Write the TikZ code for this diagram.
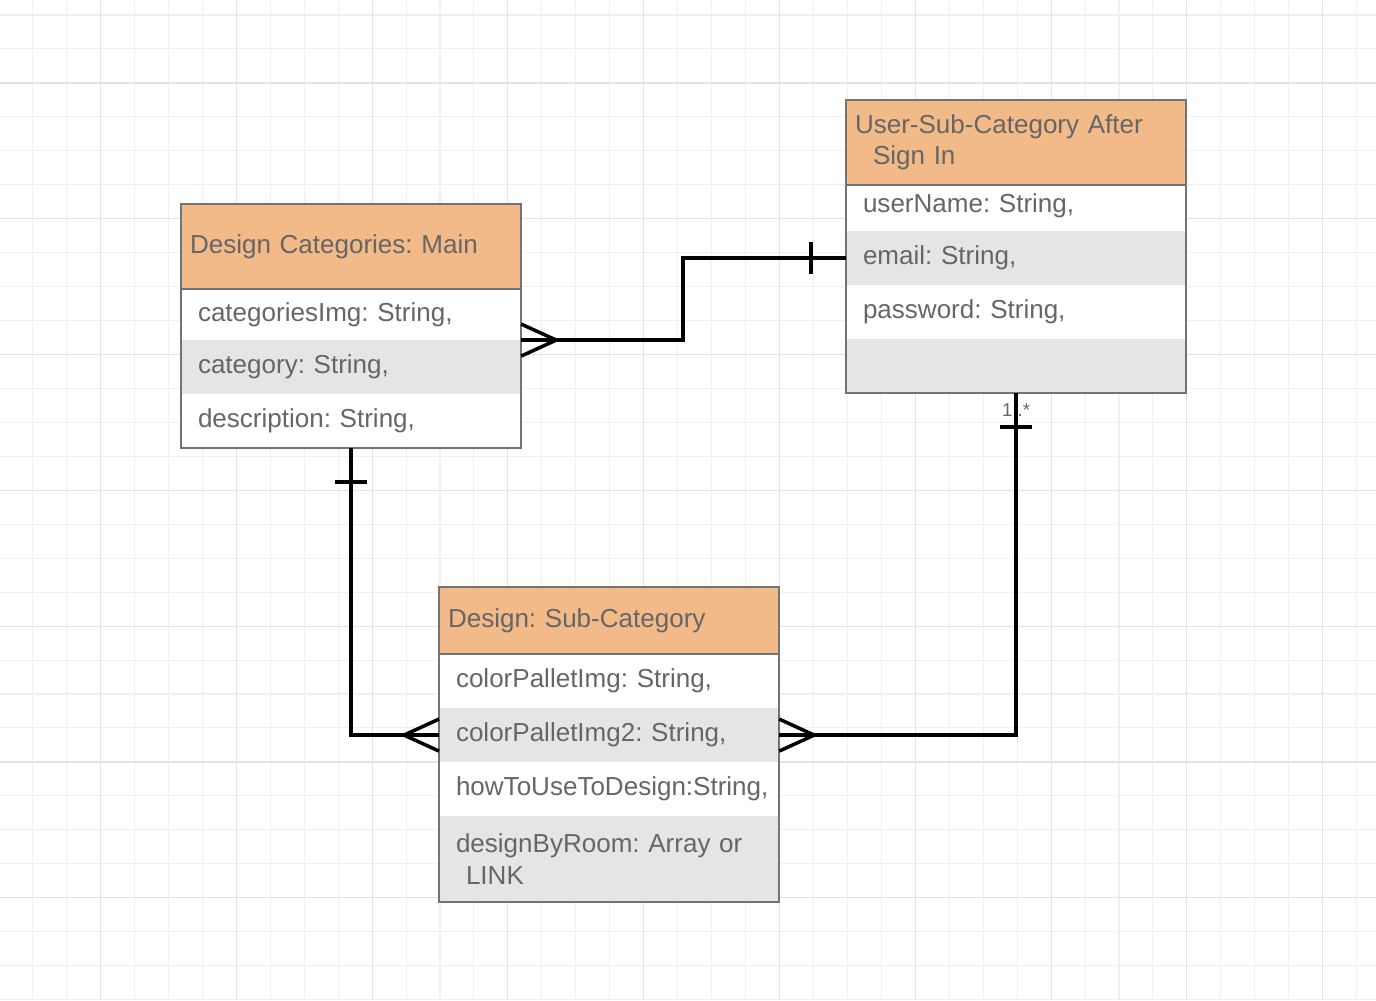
\documentclass[tikz,border=0pt]{standalone}
\usepackage{fontspec}
\setmainfont{Liberation Sans}
\usetikzlibrary{positioning}
\frenchspacing

\definecolor{hdrfill}{RGB}{242,185,137}
\definecolor{rowgrey}{RGB}{229,229,229}
\definecolor{edgegrey}{RGB}{115,115,115}
\definecolor{txtgrey}{RGB}{102,102,102}
\definecolor{gridfine}{RGB}{240,240,240}
\definecolor{gridbold}{RGB}{227,227,227}

\tikzset{
  boxfont/.style={font=\fontsize{7.4pt}{8.9pt}\selectfont, text=txtgrey},
  hdr/.style={boxfont, fill=hdrfill, anchor=north west, outer sep=0pt,
    minimum width=3.4cm, text width=3.22cm, inner xsep=0.09cm, inner ysep=0pt, align=left},
  attr/.style={boxfont, fill=white, outer sep=0pt, below=0pt of #1,
    minimum width=3.4cm, minimum height=0.54cm, text width=3.06cm, inner xsep=0.17cm, inner ysep=0pt, align=left},
  edge/.style={draw=edgegrey, line width=0.6pt},
  rel/.style={draw=black, line width=1pt},
  mult/.style={font=\fontsize{5.3pt}{6pt}\selectfont, text=txtgrey, inner sep=0pt}
}

\begin{document}
\begin{tikzpicture}[x=0.01cm, y=-0.01cm]
	\useasboundingbox (0,0) rectangle (1376,1000);
	\fill[white] (0,0) rectangle (1376,1000);
	% grid
	\foreach \k in {-2,...,37}
		\draw[gridfine, line width=0.3pt] (100.5+33.95*\k,0) -- (100.5+33.95*\k,1000);
	\foreach \k in {0,...,29}
		\draw[gridfine, line width=0.3pt] (0,15+33.95*\k) -- (1376,15+33.95*\k);
	\foreach \k in {0,...,9}
		\draw[gridbold, line width=0.3pt] (100.5+135.8*\k,0) -- (100.5+135.8*\k,1000);
	\foreach \k in {0,...,6}
		\draw[gridbold, line width=0.3pt] (0,83+135.8*\k) -- (1376,83+135.8*\k);

	% Design Categories: Main
	\node [hdr, minimum height=0.85cm] (hdrmain) at (181,204) {Design Categories: Main};
	\node [attr=hdrmain, minimum height=0.51cm] (catimg) {categoriesImg: String,};
	\node [attr=catimg, fill=rowgrey] (categ) {category: String,};
	\node [attr=categ] (descr) {description: String,};
	\draw[edge] (hdrmain.north west) rectangle (descr.south east)
		(hdrmain.south west) -- (hdrmain.south east);

	% User-Sub-Category After Sign In
	\node [hdr, minimum height=0.85cm] (hdruser) at (846,100) {User-Sub-Category After\\\hspace*{0.18cm}Sign In};
	\node [attr=hdruser, minimum height=0.46cm] (uname) {\raisebox{0.09cm}{userName: String,}};
	\node [attr=uname, fill=rowgrey] (email) {email: String,};
	\node [attr=email] (passwd) {password: String,};
	\node [attr=passwd, fill=rowgrey] (blank) {};
	\draw[edge] (hdruser.north west) rectangle (blank.south east)
		(hdruser.south west) -- (hdruser.south east);

	% Design: Sub-Category
	\node [hdr, minimum height=0.67cm] (hdrsub) at (439,587) {Design: Sub-Category};
	\node [attr=hdrsub] (palone) {colorPalletImg: String,};
	\node [attr=palone, fill=rowgrey] (paltwo) {colorPalletImg2: String,};
	\node [attr=paltwo] (howto) {howToUseToDesign:String,};
	\node [attr=howto, fill=rowgrey, minimum height=0.86cm] (room) {designByRoom: Array or\\\hspace*{0.1cm}LINK};
	\draw[edge] (hdrsub.north west) rectangle (room.south east)
		(hdrsub.south west) -- (hdrsub.south east);

	\node [mult, below=0.1cm of blank] (multuser) {1..*};

	% relations
	\draw[rel] (catimg.south east) -- ++(162,0) |- (email.west);
	\draw[rel] (catimg.south east) ++(0,-16) -- ++(35,16) -- ++(-35,16);
	\draw[rel] (email.west) ++(-35,-16) -- ++(0,32);

	\draw[rel] (descr.south) |- (paltwo.west);
	\draw[rel] (descr.south) ++(-16,34) -- ++(32,0);
	\draw[rel] (paltwo.west) ++(0,-16) -- ++(-35,16) -- ++(35,16);

	\draw[rel] (blank.south) |- (paltwo.east);
	\draw[rel] (blank.south) ++(-16,34) -- ++(32,0);
	\draw[rel] (paltwo.east) ++(0,-16) -- ++(35,16) -- ++(-35,16);
\end{tikzpicture}
\end{document}
